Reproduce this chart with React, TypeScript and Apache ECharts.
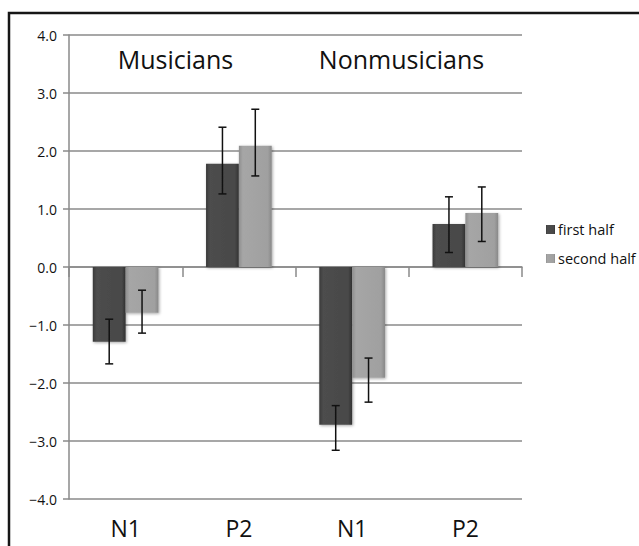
import React, { useEffect, useRef } from "react";
import * as echarts from "echarts";

const categories = ["N1", "P2", "N1", "P2"];
const groupTitles = ["Musicians", "Nonmusicians"];
const seriesNames = ["first half", "second half"];
const firstHalf = [-1.29, 1.78, -2.72, 0.74];
const secondHalf = [-0.79, 2.09, -1.91, 0.93];
const firstLow = [-1.67, 1.26, -3.16, 0.25];
const firstHigh = [-0.9, 2.41, -2.39, 1.21];
const secondLow = [-1.14, 1.57, -2.33, 0.44];
const secondHigh = [-0.4, 2.72, -1.57, 1.38];

const FONT = "'Open Sans', 'DejaVu Sans', sans-serif";
const GAP = 0.42;

const darkFill = new echarts.graphic.LinearGradient(0, 0, 1, 0, [
  { offset: 0, color: "#3a3a3a" },
  { offset: 0.12, color: "#4d4d4d" },
  { offset: 0.88, color: "#484848" },
  { offset: 1, color: "#333333" },
]);
const lightFill = new echarts.graphic.LinearGradient(0, 0, 1, 0, [
  { offset: 0, color: "#8e8e8e" },
  { offset: 0.12, color: "#a6a6a6" },
  { offset: 0.88, color: "#a0a0a0" },
  { offset: 1, color: "#888888" },
]);

function errRender(side: number) {
  return (params: any, api: any) => {
    const idx = api.value(0);
    const lo = api.coord([idx, api.value(1)]);
    const hi = api.coord([idx, api.value(2)]);
    const catW = api.size([1, 0])[0];
    const barW = (catW * (1 - GAP)) / 2;
    const x = lo[0] + (side * barW) / 2;
    const cap = 4;
    const style = { stroke: "#111", lineWidth: 1.5 };
    return {
      type: "group",
      children: [
        { type: "line", shape: { x1: x, y1: lo[1], x2: x, y2: hi[1] }, style },
        { type: "line", shape: { x1: x - cap, y1: lo[1], x2: x + cap, y2: lo[1] }, style },
        { type: "line", shape: { x1: x - cap, y1: hi[1], x2: x + cap, y2: hi[1] }, style },
      ],
    };
  };
}

export default function App() {
  const ref = useRef<HTMLDivElement>(null);
  useEffect(() => {
    if (!ref.current) return;
    const chart = echarts.init(ref.current, null, { renderer: "svg" });
    const option: any = {
      animation: false,
      backgroundColor: "#ffffff",
      grid: { left: 69, top: 35, right: 117, bottom: 47, containLabel: false },
      legend: {
        orient: "vertical",
        left: 541,
        top: 217,
        itemWidth: 9,
        itemHeight: 9,
        itemGap: 14,
        icon: "rect",
        data: seriesNames,
        textStyle: { fontFamily: FONT, fontSize: 14.5, color: "#111", padding: [0, 0, 0, -2] },
      },
      xAxis: [
        {
          type: "category",
          data: categories,
          axisLine: { onZero: true, lineStyle: { color: "#8a8a8a", width: 1.5 } },
          axisTick: { show: true, length: 10, lineStyle: { color: "#8a8a8a", width: 1.5 } },
          axisLabel: { show: false },
          splitLine: { show: false },
        },
        {
          type: "category",
          data: categories,
          position: "bottom",
          axisLine: { show: false },
          axisTick: { show: false },
          axisLabel: { show: true, margin: 17, fontFamily: FONT, fontSize: 23, color: "#111" },
          splitLine: { show: false },
        },
      ],
      yAxis: {
        type: "value",
        min: -4,
        max: 4,
        interval: 1,
        axisLine: { show: true, lineStyle: { color: "#8a8a8a", width: 1.5 } },
        axisTick: { show: true, length: 6, lineStyle: { color: "#8a8a8a", width: 1.5 } },
        splitLine: { show: true, lineStyle: { color: "#8a8a8a", width: 1.5 } },
        axisLabel: {
          margin: 12,
          fontFamily: FONT,
          fontSize: 14,
          color: "#111",
          formatter: (v: number) => (v < 0 ? "\u2212" + Math.abs(v).toFixed(1) : v.toFixed(1)),
        },
      },
      graphic: [
        {
          type: "rect",
          shape: { x: 9, y: 13, width: 800, height: 700 },
          style: { fill: "none", stroke: "#161616", lineWidth: 2.5 },
          z: 100,
        },
        {
          type: "text",
          x: 175.5,
          y: 59,
          style: { text: groupTitles[0], font: `25px ${FONT}`, fill: "#111", textAlign: "center", textVerticalAlign: "middle" },
        },
        {
          type: "text",
          x: 401.5,
          y: 59,
          style: { text: groupTitles[1], font: `25px ${FONT}`, fill: "#111", textAlign: "center", textVerticalAlign: "middle" },
        },
      ],
      series: [
        {
          name: seriesNames[0],
          type: "bar",
          data: firstHalf,
          barGap: "0%",
          barCategoryGap: GAP * 100 + "%",
          itemStyle: {
            color: darkFill,
            shadowBlur: 3,
            shadowColor: "rgba(0,0,0,0.35)",
            shadowOffsetX: 1,
            shadowOffsetY: 1,
          },
        },
        {
          name: seriesNames[1],
          type: "bar",
          data: secondHalf,
          barGap: "0%",
          barCategoryGap: GAP * 100 + "%",
          itemStyle: {
            color: lightFill,
            shadowBlur: 3,
            shadowColor: "rgba(0,0,0,0.35)",
            shadowOffsetX: 1,
            shadowOffsetY: 1,
          },
        },
        {
          type: "custom",
          name: "err1",
          renderItem: errRender(-1),
          data: categories.map((_, i) => [i, firstLow[i], firstHigh[i]]),
          z: 10,
          encode: { x: 0, y: [1, 2] },
        },
        {
          type: "custom",
          name: "err2",
          renderItem: errRender(1),
          data: categories.map((_, i) => [i, secondLow[i], secondHigh[i]]),
          z: 10,
          encode: { x: 0, y: [1, 2] },
        },
      ],
    };
    chart.setOption(option);
    return () => chart.dispose();
  }, []);
  return (
    <div
      ref={ref}
      style={{ position: "fixed", left: 0, top: 0, width: 639, height: 546, background: "#fff" }}
    />
  );
}
